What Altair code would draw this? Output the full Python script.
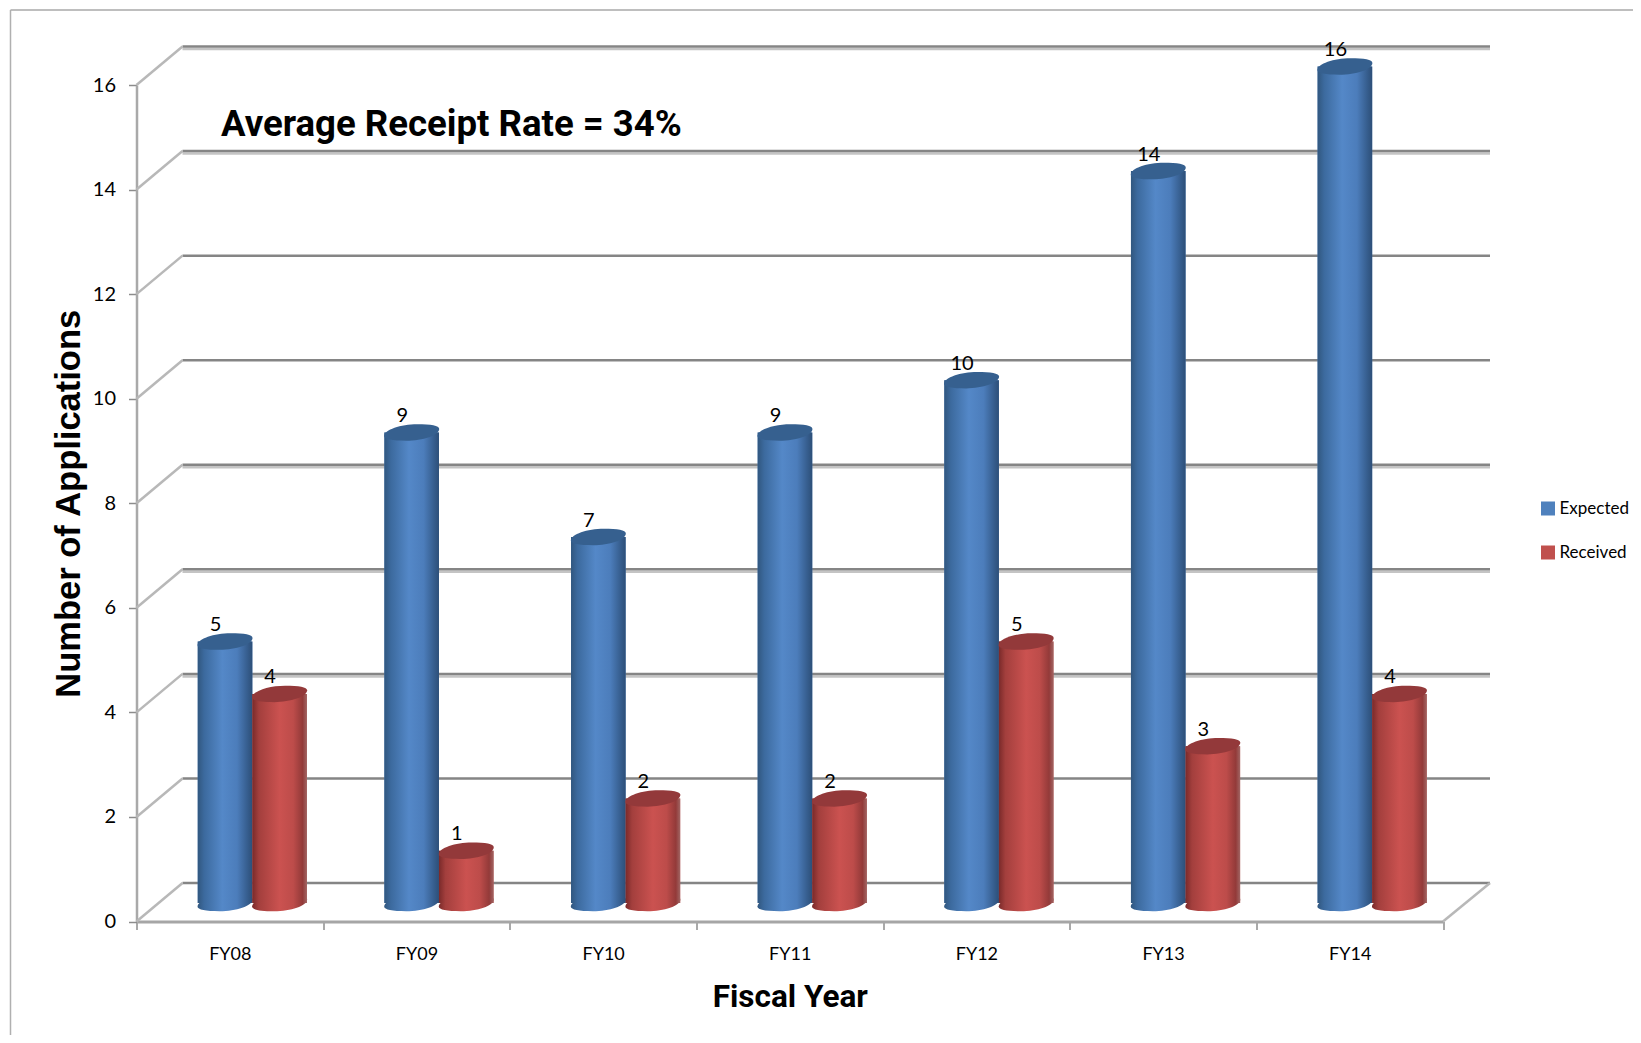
import altair as alt
import pandas as pd

years = ["FY08", "FY09", "FY10", "FY11", "FY12", "FY13", "FY14"]
expected = [5, 9, 7, 9, 10, 14, 16]
received = [4, 1, 2, 2, 5, 3, 4]
y_ticks = [0, 2, 4, 6, 8, 10, 12, 14, 16]
shaded_lines = [4, 6, 8, 14, 16]
series_names = ["Expected", "Received"]
series_colors = ["#4f81bd", "#c0504d"]
annotation = "Average Receipt Rate = 34%"

PLOT_W = 1306.5
PLOT_H = 836.5
DEPTH_X = 46
DEPTH_Y = 38.5
UNIT = PLOT_H / 16
BAND = PLOT_W / 7
MID_X = 22.5
MID_Y = 18.5
LABEL_FONT = "Lato"
TITLE_FONT = "Roboto"

rows = []
for y, e, r in zip(years, expected, received):
    rows.append({"year": y, "series": "Expected", "value": e})
    rows.append({"year": y, "series": "Received", "value": r})
bars = pd.DataFrame(rows)
lines = pd.DataFrame({"v": y_ticks})
lines["v2"] = lines["v"] + DEPTH_Y / UNIT
shaded = pd.DataFrame({"v": shaded_lines})

x_axis = alt.Axis(title="Fiscal Year", labelAngle=0, labelFont=LABEL_FONT, labelFontSize=18,
                  labelColor="#000000", labelPadding=16, tickBand="extent", tickSize=8,
                  tickColor="#8c8c8c", tickWidth=1.5, domainColor="#a6a6a6", domainWidth=3,
                  titleFont=TITLE_FONT, titleFontSize=31.5, titleFontWeight="bold",
                  titleColor="#000000", titlePadding=18, grid=False)
y_axis = alt.Axis(title="Number of Applications", values=y_ticks, labelFont=LABEL_FONT,
                  labelFontSize=20, labelColor="#000000", labelPadding=13, labelOffset=0,
                  tickSize=8, tickColor="#8c8c8c", tickWidth=1.5, domainColor="#a9a9a9",
                  domainWidth=2.5, titleFont="Liberation Sans", titleFontSize=34.5,
                  titleFontWeight="bold", titleColor="#000000", titlePadding=6, grid=False)
x_scale = alt.Scale(domain=years, paddingInner=0, paddingOuter=0)
y_scale = alt.Scale(domain=[0, 16], nice=False)
off_scale = alt.Scale(domain=series_names, range=[MID_X, MID_X + BAND],
                      paddingInner=0, paddingOuter=0.71)
X = alt.X("year:N", scale=x_scale, sort=years, axis=x_axis)
XO = alt.XOffset("series:N", scale=off_scale, sort=series_names)


def yq(field):
    return alt.Y(field, scale=y_scale, axis=y_axis)


def gradient(stops):
    return alt.Gradient(gradient="linear", x1=0, x2=1, y1=0, y2=0,
                        stops=[alt.GradientStop(offset=o, color=c) for o, c in stops])


blue_grad = gradient([(0, "#31577f"), (0.12, "#3c6a9e"), (0.45, "#5488c8"), (0.72, "#4c7dbb"),
                      (0.9, "#375f90"), (1, "#2d4f78")])
red_grad = gradient([(0, "#7a2a2a"), (0.12, "#a33f3d"), (0.5, "#cb5250"), (0.75, "#bd4c4a"),
                     (0.92, "#933a39"), (1, "#a06563")])

TOP_SHAPE = ("M-1,0.13 C-1,-0.1 -0.4,-0.3 0.2,-0.3 C0.7,-0.3 1,-0.25 1,-0.13 "
             "C1,0.1 0.4,0.3 -0.2,0.3 C-0.7,0.3 -1,0.25 -1,0.13 Z")
SIZE = 55 ** 2

wall = alt.Chart(lines).mark_rule(color="#858585", strokeWidth=2.5, yOffset=-DEPTH_Y).encode(
    x=alt.value(DEPTH_X), x2=alt.value(PLOT_W + DEPTH_X + 1), y=yq("v:Q"))
wall_shade = alt.Chart(shaded).mark_rule(color="#c4c4c4", strokeWidth=2.5, yOffset=-DEPTH_Y + 2.5).encode(
    x=alt.value(DEPTH_X), x2=alt.value(PLOT_W + DEPTH_X + 1), y=yq("v:Q"))
side = alt.Chart(lines).mark_rule(color="#b8b8b8", strokeWidth=2.5).encode(
    x=alt.value(0), x2=alt.value(DEPTH_X), y=yq("v:Q"), y2="v2:Q")
floor_side = alt.Chart(lines[lines.v == 0]).mark_rule(color="#b8b8b8", strokeWidth=2.5).encode(
    x=alt.value(PLOT_W), x2=alt.value(PLOT_W + DEPTH_X + 1), y=yq("v:Q"), y2="v2:Q")

legend_bars = alt.Chart(bars).mark_bar(yOffset=-MID_Y, y2Offset=-MID_Y).encode(
    x=X, xOffset=XO, y=yq("value:Q"),
    color=alt.Color("series:N", scale=alt.Scale(domain=series_names, range=series_colors),
                    legend=alt.Legend(title=None, orient="none", legendX=1403, legendY=415,
                                      symbolType="square", symbolSize=196, symbolStrokeWidth=0,
                                      labelFont=LABEL_FONT, labelFontSize=17, labelColor="#000000",
                                      labelOffset=3, rowPadding=26)))


def series_layers(name, grad, top_color):
    d = alt.Chart(bars[bars.series == name])
    bottom = d.mark_point(shape=TOP_SHAPE, size=SIZE, filled=True, opacity=1, fill=grad, stroke=None,
                          yOffset=-MID_Y).encode(
        x=X, xOffset=XO, y=yq("zero:Q")).transform_calculate(zero="0")
    body = d.mark_bar(fill=grad, yOffset=-MID_Y, y2Offset=-MID_Y).encode(
        x=X, xOffset=XO, y=yq("value:Q"))
    top = d.mark_point(shape=TOP_SHAPE, size=SIZE, filled=True, opacity=1, fill=top_color, stroke=None,
                       yOffset=-MID_Y).encode(x=X, xOffset=XO, y=yq("value:Q"))
    return [bottom, body, top]


labels = alt.Chart(bars).mark_text(font=LABEL_FONT, fontSize=20, color="#000000", baseline="middle",
                                   align="center", dx=-9.5, dy=-MID_Y - 16.5).encode(
    x=X, xOffset=XO, y=yq("value:Q"), text="value:Q")

note = alt.Chart(pd.DataFrame({"t": [annotation]})).mark_text(
    font=TITLE_FONT, fontSize=36.6, fontWeight="bold", color="#000000", align="left", baseline="middle"
).encode(x=alt.value(84.5), y=alt.value(40), text="t:N")

frame_top = alt.Chart(pd.DataFrame({"a": [0]})).mark_rule(color="#a8a8a8", strokeWidth=1.5).encode(
    x=alt.value(-126), x2=alt.value(1496.5), y=alt.value(-75))
frame_left = alt.Chart(pd.DataFrame({"a": [0]})).mark_rule(color="#b0b0b0", strokeWidth=1.5).encode(
    x=alt.value(-126), y=alt.value(-75), y2=alt.value(950))

layers = [frame_top, frame_left, wall_shade, wall, side, floor_side, legend_bars]
layers += series_layers("Expected", blue_grad, "#36608f")
layers += series_layers("Received", red_grad, "#93393a")
layers += [labels, note]

chart = alt.layer(*layers).properties(
    width=PLOT_W, height=PLOT_H,
    autosize=alt.AutoSizeParams(type="none"),
    padding={"left": 128.5, "top": 77, "right": 190, "bottom": 113},
).configure_view(stroke=None)

chart.save("out.html", embed_options={"renderer": "svg", "actions": False})
